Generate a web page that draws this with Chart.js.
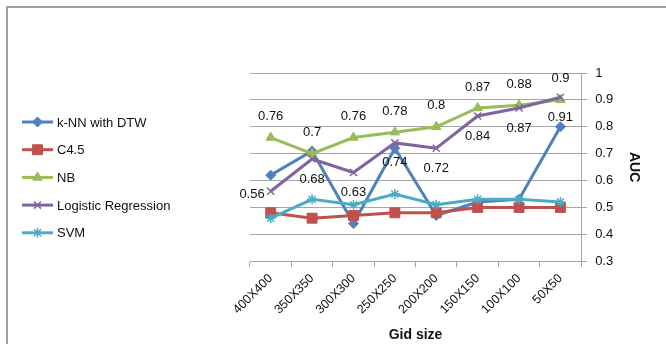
<!DOCTYPE html>
<html>
<head>
<meta charset="utf-8">
<script src="https://cdn.jsdelivr.net/npm/chart.js@4/dist/chart.umd.min.js"></script>
<style>
  html, body { margin: 0; padding: 0; background: #fff; }
  #wrap { position: relative; width: 666px; height: 344px; }
</style>
</head>
<body>
<div id="wrap"><canvas id="c" width="666" height="344"></canvas></div>
<script>
// Grid sizes along the x axis
const gridSizes = ['400X400', '350X350', '300X300', '250X250', '200X200', '150X150', '100X100', '50X50'];

// AUC for each classifier
const knnDtw   = [0.62, 0.71, 0.44, 0.72, 0.47, 0.52, 0.53, 0.80];
const c45      = [0.48, 0.46, 0.47, 0.48, 0.48, 0.50, 0.50, 0.50];
const nb       = [0.76, 0.70, 0.76, 0.78, 0.80, 0.87, 0.88, 0.90];
const logReg   = [0.56, 0.68, 0.63, 0.74, 0.72, 0.84, 0.87, 0.91];
const svm      = [0.46, 0.53, 0.51, 0.55, 0.51, 0.53, 0.53, 0.52];

const seriesNames = ['k-NN with DTW', 'C4.5', 'NB', 'Logistic Regression', 'SVM'];

const FONT = '"Liberation Sans", Arial, sans-serif';
const GRID = '#a6a6a6';

function series(label, data, color, style, radius, order, valueLabels) {
  return {
    label, data,
    borderColor: color, backgroundColor: color,
    pointStyle: style, pointRadius: radius, pointHoverRadius: radius,
    pointBorderColor: color, pointBackgroundColor: color,
    pointBorderWidth: (style === 'crossRot' || style === 'star') ? 1.5 : 1,
    borderWidth: 3, tension: 0, order,
    valueLabels
  };
}

// Frame lines along the top and left edge
const framePlugin = {
  id: 'frame',
  beforeDraw(chart) {
    const ctx = chart.ctx;
    ctx.save();
    ctx.strokeStyle = '#a0a0a0';
    ctx.lineWidth = 2;
    ctx.beginPath();
    ctx.moveTo(7, chart.height);
    ctx.lineTo(7, 7);
    ctx.lineTo(chart.width, 7);
    ctx.stroke();
    ctx.restore();
  }
};

// Legend on the left: line sample with the series marker, then the name
const sideLegend = {
  id: 'sideLegend',
  afterDraw(chart) {
    const ctx = chart.ctx;
    const x0 = 22, x1 = 53, top = 122, step = 27.7;
    ctx.save();
    chart.data.datasets.forEach((ds, i) => {
      const y = top + i * step;
      ctx.strokeStyle = ds.borderColor;
      ctx.lineWidth = 3;
      ctx.beginPath();
      ctx.moveTo(x0, y);
      ctx.lineTo(x1, y);
      ctx.stroke();
      ctx.fillStyle = ds.borderColor;
      ctx.strokeStyle = ds.borderColor;
      ctx.lineWidth = ds.pointBorderWidth;
      Chart.helpers.drawPoint(ctx, { pointStyle: ds.pointStyle, radius: ds.pointRadius, borderWidth: ds.pointBorderWidth }, (x0 + x1) / 2, y);
      ctx.fillStyle = '#111';
      ctx.font = '13px ' + FONT;
      ctx.textAlign = 'left';
      ctx.textBaseline = 'middle';
      ctx.fillText(ds.label, x1 + 4, y + 1);
    });
    ctx.restore();
  }
};

// Value labels above or below the points of selected series
const valueLabels = {
  id: 'valueLabels',
  afterDatasetsDraw(chart) {
    const ctx = chart.ctx;
    ctx.save();
    ctx.font = '13px ' + FONT;
    ctx.fillStyle = '#111';
    ctx.textBaseline = 'middle';
    chart.data.datasets.forEach((ds, di) => {
      if (!ds.valueLabels) return;
      const meta = chart.getDatasetMeta(di);
      meta.data.forEach((pt, i) => {
        const txt = String(ds.data[i]);
        let x = pt.x, y = pt.y;
        ctx.textAlign = 'center';
        if (ds.valueLabels === 'above') {
          y -= 21;
        } else if (i === 0) {
          ctx.textAlign = 'right';
          x -= 6; y += 3;
        } else {
          y += 20;
        }
        ctx.fillText(txt, x, y);
      });
    });
    ctx.restore();
  }
};

new Chart(document.getElementById('c'), {
  type: 'line',
  data: {
    labels: gridSizes,
    datasets: [
      series(seriesNames[0], knnDtw, '#4f81bd', 'rectRot', 5, 5, null),
      series(seriesNames[1], c45,    '#c0504d', 'rect',    7, 4, null),
      series(seriesNames[2], nb,     '#9bbb59', 'triangle',5.5, 3, 'above'),
      series(seriesNames[3], logReg, '#8064a2', 'crossRot',5, 2, 'below'),
      series(seriesNames[4], svm,    '#4bacc6', 'star',    5, 1, null)
    ]
  },
  options: {
    responsive: false,
    animation: false,
    events: [],
    layout: { padding: { left: 250, top: 73, right: 20, bottom: 0 } },
    plugins: {
      legend: { display: false },
      tooltip: { enabled: false }
    },
    scales: {
      x: {
        offset: true,
        grid: { display: true, drawOnChartArea: false, offset: true, color: GRID, tickLength: 6 },
        border: { display: true, color: GRID, width: 1 },
        ticks: { color: '#111', font: { family: FONT, size: 12.5 }, minRotation: 45, maxRotation: 45, padding: 4 },
        title: { display: true, text: 'Gid size', color: '#111', font: { family: FONT, size: 14, weight: 'bold' }, padding: { top: 6, bottom: 0 } }
      },
      y: {
        position: 'right',
        min: 0.3, max: 1,
        ticks: { stepSize: 0.1, color: '#111', font: { family: FONT, size: 13 }, padding: 8,
                 callback: v => String(+v.toFixed(1)) },
        grid: { color: GRID, tickLength: 6 },
        border: { display: true, color: GRID, width: 1 },
        title: { display: true, text: 'AUC', color: '#111', font: { family: FONT, size: 14, weight: 'bold' }, padding: { top: 4, bottom: 4 } }
      }
    }
  },
  plugins: [framePlugin, sideLegend, valueLabels]
});
</script>
</body>
</html>
